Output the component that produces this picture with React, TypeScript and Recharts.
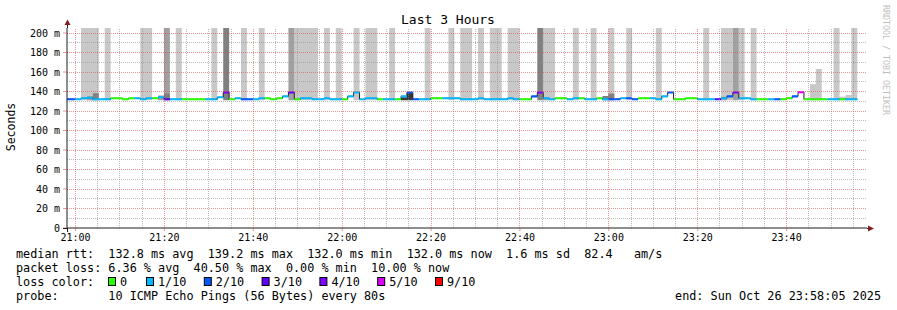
import React from 'react';
import { ComposedChart, Area, XAxis, YAxis, ReferenceLine } from 'recharts';

// ---------- data ----------
const START_TIME = '20:58:05';
const SPAN_MIN = 180;
const STEP_SECONDS = 80;
const FIRST_BOUNDARY_SEC = 29; // first 80 s step boundary after the start
const Y_MAX = 205.13;

const timeLabels = ['21:00', '21:20', '21:40', '22:00', '22:20', '22:40', '23:00', '23:20', '23:40'];
const yTicks = [0, 20, 40, 60, 80, 100, 120, 140, 160, 180, 200];

// median rtt (ms) per 80 s step, first entry is the partial step before the first boundary
const medianMs = [
  132,
  132, 132, 133, 133.5, 132, 132, 132, 133, 133, 132,
  133, 133, 132, 133, 133, 134, 132, 132, 132, 132,
  132, 132, 132, 132, 132, 134, 139, 132, 133, 132,
  132, 132, 133, 133, 132, 133, 135, 139, 132, 133,
  133, 132, 132, 133, 132, 132, 132, 135, 139, 132,
  133, 133, 132, 132, 132, 132, 135, 139, 132, 132,
  132, 133, 133, 133, 133, 133, 132, 132, 132, 133,
  132, 132, 132, 132, 133, 132, 132, 132, 135, 139,
  133, 132, 133, 133, 132, 133, 133, 132, 132, 133,
  132, 132, 132, 133, 133, 132, 133, 133, 133, 132,
  135, 139, 132, 132, 133, 133, 132, 132, 132, 132,
  133, 135, 139, 133, 133, 132, 132, 132, 132, 132,
  132, 133, 135, 139.2, 132, 132, 132, 132, 132, 132,
  132, 132, 132,
];

// lost pings (of 10) per step
const lossLevel = [
  2,
  2, 1, 1, 1, 1, 1, 1, 0, 0, 0,
  0, 1, 1, 1, 0, 1, 3, 1, 1, 0,
  0, 0, 0, 1, 1, 1, 4, 0, 1, 2,
  2, 1, 1, 0, 0, 0, 1, 3, 0, 1,
  1, 1, 1, 1, 1, 1, 0, 1, 1, 1,
  1, 1, 0, 1, 1, 0, 1, 2, 2, 1,
  1, 0, 0, 1, 1, 1, 1, 1, 1, 1,
  1, 1, 1, 1, 1, 1, 0, 0, 2, 4,
  1, 1, 0, 0, 1, 1, 0, 1, 1, 0,
  1, 2, 2, 1, 2, 2, 0, 0, 1, 1,
  1, 2, 0, 0, 0, 0, 1, 1, 1, 3,
  1, 2, 4, 1, 1, 1, 0, 0, 1, 2,
  0, 0, 2, 5, 0, 0, 0, 0, 1, 1,
  0, 1, 1,
];

// smoke: [step, top ms]; 250 = beyond the top of the graph
const FULL = 250;
const SMOKE_FLOOR = 131;
const smokeLight: Array<[number, number]> = [
  [2, FULL], [3, FULL], [4, FULL], [6, FULL], [12, FULL], [13, FULL], [18, FULL], [24, FULL], [29, FULL], [32, FULL],
  [38, FULL], [39, FULL], [40, FULL], [41, FULL], [43, FULL], [45, FULL], [48, FULL], [50, FULL], [51, FULL], [54, FULL],
  [60, FULL], [64, FULL], [66, FULL], [67, FULL], [69, FULL], [71, FULL], [72, FULL], [74, FULL], [75, FULL], [80, FULL],
  [81, FULL], [85, FULL], [88, FULL], [91, FULL], [94, FULL], [99, FULL], [107, FULL], [110, FULL], [111, FULL], [113, FULL],
  [115, FULL], [125, 147.5], [126, 163], [129, FULL], [130, 134.5], [131, 136.5], [132, FULL],
];
const smokeMid: Array<[number, number]> = [[3, 135.5], [15, 136], [16, FULL], [37, FULL], [80, 134], [110, 134.5], [112, FULL]];
const smokeDark: Array<[number, number]> = [[4, 138.2], [16, 138], [26, FULL], [79, FULL], [90, 135.5], [91, 138]];
const smokeDarkest: Array<[number, number]> = [[56, 134], [57, 138.5]];

const lossLevels = [0, 1, 2, 3, 4, 5, 9];
const lossLabels = ['0', '1/10', '2/10', '3/10', '4/10', '5/10', '9/10'];
const lossColors = ['#26ff00', '#00b8ff', '#0059ff', '#5e00ff', '#7e00ff', '#dd00ff', '#ff0000'];

const legendRtt = 'median rtt:  132.8 ms avg  139.2 ms max  132.0 ms min  132.0 ms now  1.6 ms sd  82.4   am/s';
const legendLoss = 'packet loss: 6.36 % avg  40.50 % max  0.00 % min  10.00 % now';
const legendProbe = 'probe:       10 ICMP Echo Pings (56 Bytes) every 80s';
const legendEnd = 'end: Sun Oct 26 23:58:05 2025';
const title = 'Last 3 Hours';
const yLabel = 'Seconds';
const watermark = 'RRDTOOL / TOBI OETIKER';

// ---------- build table ----------
const toMin = (s: string) => {
  const p = s.split(':').map(Number);
  return p[0] * 60 + p[1] + (p[2] || 0) / 60;
};
const startMin = toMin(START_TIME);
const tickValues = timeLabels.map((l) => toMin(l) - startMin);
const minorX: number[] = [];
const majorX: number[] = [];
for (let t = tickValues[0], j = 0; t < SPAN_MIN; t += 5, j++) (j % 4 === 0 ? majorX : minorX).push(t);
const minorY: number[] = [];
for (let v = 10; v < Y_MAX; v += 20) minorY.push(v);
const majorY = yTicks.filter((v) => v > 0);

const BAND = 1.03;
const smokeLayers = [
  { key: 'sL', map: new Map(smokeLight), color: '#c8c8c8' },
  { key: 'sM', map: new Map(smokeMid), color: '#a0a0a0' },
  { key: 'sD', map: new Map(smokeDark), color: '#808080' },
  { key: 'sX', map: new Map(smokeDarkest), color: '#383838' },
];

const rows: Array<Record<string, any>> = [];
medianMs.forEach((m, i) => {
  const k = i - 1;
  const t0 = Math.max(0, FIRST_BOUNDARY_SEC + k * STEP_SECONDS) / 60;
  const t1 = Math.min(SPAN_MIN * 60, FIRST_BOUNDARY_SEC + (k + 1) * STEP_SECONDS) / 60;
  const r: Record<string, any> = { med: m };
  lossLevels.forEach((lv) => {
    r['c' + lv] = lossLevel[i] === lv ? [m - BAND, m + BAND] : null;
  });
  smokeLayers.forEach((layer) => {
    const top = layer.map.get(k);
    r[layer.key] = top != null ? [SMOKE_FLOOR, top] : null;
  });
  rows.push({ t: t0, ...r }, { t: t1, ...r });
});

const FONT = '"DejaVu Sans Mono", monospace';
const MAJOR_GRID = '#de4f4f';
const MAJOR_OP = 0.6;
const MINOR_GRID = '#8f8f8f';
const MINOR_OP = 0.6;
const AXIS = '#1f1f1f';
const ARROW = '#801f1f';

export default function App() {
  return (
    <div style={{ position: 'absolute', left: 0, top: 0, width: 897, height: 310, background: '#fff' }}>
      <ComposedChart width={897} height={310} data={rows} margin={{ top: 28, right: 30, bottom: 52, left: 0 }}>
        <XAxis
          dataKey="t"
          type="number"
          domain={[0, SPAN_MIN]}
          allowDataOverflow
          ticks={tickValues}
          tickFormatter={(v: number) => timeLabels[tickValues.findIndex((x) => Math.abs(x - v) < 0.01)] ?? ''}
          height={30}
          tickSize={3}
          tickMargin={3}
          tickLine={{ stroke: MAJOR_GRID, strokeOpacity: MAJOR_OP }}
          axisLine={{ stroke: AXIS }}
          tick={{ fontFamily: FONT, fontSize: 10, fill: '#000' }}
          interval={0}
        />
        <YAxis
          type="number"
          domain={[0, Y_MAX]}
          allowDataOverflow
          ticks={yTicks}
          tickFormatter={(v: number) => (v === 0 ? '0' : `${v} m`)}
          width={67}
          tickSize={4}
          tickMargin={3}
          tickLine={{ stroke: MAJOR_GRID, strokeOpacity: MAJOR_OP }}
          axisLine={{ stroke: AXIS }}
          tick={{ fontFamily: FONT, fontSize: 10, fill: '#000' }}
          interval={0}
        />
        {smokeLayers.map((layer) => (
          <Area
            key={layer.key}
            dataKey={layer.key}
            type="linear"
            stroke="none"
            fill={layer.color}
            fillOpacity={1}
            dot={false}
            activeDot={false}
            isAnimationActive={false}
          />
        ))}
        <Area
          dataKey="med"
          type="linear"
          stroke="#202020"
          strokeWidth={1}
          fill="none"
          dot={false}
          activeDot={false}
          isAnimationActive={false}
        />
        {lossLevels.map((lv, i) => (
          <Area
            key={'c' + lv}
            dataKey={'c' + lv}
            type="linear"
            stroke="none"
            fill={lossColors[i]}
            fillOpacity={1}
            dot={false}
            activeDot={false}
            isAnimationActive={false}
          />
        ))}
        {minorY.map((v) => (
          <ReferenceLine key={'my' + v} y={v} stroke={MINOR_GRID} strokeOpacity={MINOR_OP} strokeDasharray="1 1" shapeRendering="crispEdges" />
        ))}
        {minorX.map((v) => (
          <ReferenceLine key={'mx' + v} x={v} stroke={MINOR_GRID} strokeOpacity={MINOR_OP} strokeDasharray="1 1" shapeRendering="crispEdges" />
        ))}
        {majorY.map((v) => (
          <ReferenceLine key={'My' + v} y={v} stroke={MAJOR_GRID} strokeOpacity={MAJOR_OP} strokeDasharray="1 1" shapeRendering="crispEdges" />
        ))}
        {majorX.map((v) => (
          <ReferenceLine key={'Mx' + v} x={v} stroke={MAJOR_GRID} strokeOpacity={MAJOR_OP} strokeDasharray="1 1" shapeRendering="crispEdges" />
        ))}
      </ComposedChart>
      <svg width={897} height={310} style={{ position: 'absolute', left: 0, top: 0, pointerEvents: 'none' }}>
        <text x={448} y={24} textAnchor="middle" fontFamily={FONT} fontSize={13} fill="#000">{title}</text>
        <text x={15} y={127} transform="rotate(-90 15 127)" textAnchor="middle" fontFamily={FONT} fontSize={11.5} fill="#000">{yLabel}</text>
        <text x={883} y={5} transform="rotate(90 883 5)" fontFamily={FONT} fontSize={8.3} fill="#c0c0c0">{watermark}</text>
        <line x1={67.5} y1={28} x2={67.5} y2={24} stroke={AXIS} />
        <line x1={67.5} y1={228} x2={67.5} y2={232} stroke={AXIS} />
        <line x1={63} y1={228.5} x2={67} y2={228.5} stroke={AXIS} />
        <line x1={867} y1={228.5} x2={869} y2={228.5} stroke={AXIS} />
        <polygon points="64.5,25 70.5,25 67.5,19.5" fill={ARROW} />
        <polygon points="868,225.5 868,231.5 874,228.5" fill={ARROW} />
        <g fontFamily={FONT} fontSize={11.8} fill="#000" style={{ whiteSpace: 'pre' }}>
          <text x={16} y={258} xmlSpace="preserve">{legendRtt}</text>
          <text x={16} y={272} xmlSpace="preserve">{legendLoss}</text>
          <text x={16} y={286} xmlSpace="preserve">loss color:</text>
          {lossLabels.map((lab, i) => {
            const bx = i === 0 ? 108 : 146 + (i - 1) * 57.8;
            return (
              <g key={lab}>
                <rect x={bx + 0.5} y={277.5} width={7} height={8} fill={lossColors[i]} stroke="#000" strokeWidth={1} />
                <text x={bx + 12} y={286} xmlSpace="preserve">{lab}</text>
              </g>
            );
          })}
          <text x={16} y={300} xmlSpace="preserve">{legendProbe}</text>
          <text x={881} y={300} textAnchor="end" xmlSpace="preserve">{legendEnd}</text>
        </g>
      </svg>
    </div>
  );
}
